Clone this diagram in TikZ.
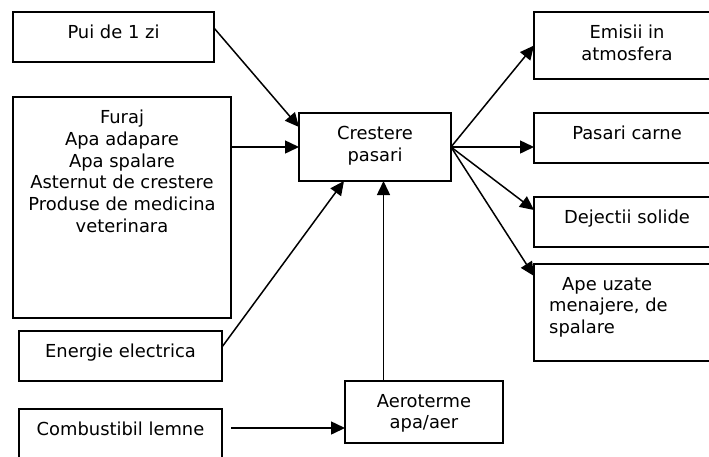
\documentclass[tikz,border=0pt]{standalone}
\usepackage{fontspec}
\setmainfont{DejaVu Sans}
\usetikzlibrary{arrows.meta, positioning, calc}

\begin{document}
\begin{tikzpicture}[
    x=1pt, y=-1pt,
    block/.style={
        rectangle, draw=black, line width=1.6pt, anchor=north west,
        inner sep=0pt, outer sep=0pt
    },
    lbl/.style={
        font=\fontsize{17.9}{21.7}\selectfont, align=center,
        inner sep=0pt, text=black
    },
    arr/.style={-{Triangle[length=14pt, width=13pt]}, line width=1.5pt, black},
    node distance=13pt
]

\useasboundingbox (0,0) rectangle (709,456);
\clip (0,0) rectangle (709,456);

% ===================================================================
% INPUTS
% ===================================================================
\node[block, minimum width=201pt, minimum height=50pt] (pui) at (13,12) {};
\node[lbl, below=of pui.north] (puitxt) {Pui de 1 zi};

\node[block, minimum width=218pt, minimum height=221pt] (furaj) at (13,97) {};
\node[lbl, below=of furaj.north] (furajtxt)
    {Furaj\\Apa adapare\\Apa spalare\\Asternut de crestere\\
     Produse de medicina\\veterinara};

\node[block, minimum width=203pt, minimum height=50pt] (ener) at (19,331) {};
\node[lbl, below=of ener.north] (enertxt) {Energie electrica};

\node[block, minimum width=203pt, minimum height=62pt] (comb) at (19,409) {};
\node[lbl, below=of comb.north] (combtxt) {Combustibil lemne};

% ===================================================================
% PROCESS
% ===================================================================
\node[block, minimum width=152pt, minimum height=68pt] (crest) at (299,113) {};
\node[lbl, below=of crest.north] (cresttxt) {Crestere\\pasari};

\node[block, minimum width=158pt, minimum height=62pt] (aero) at (345,381) {};
\node[lbl, below=of aero.north] (aerotxt) {Aeroterme\\apa/aer};

% ===================================================================
% OUTPUTS
% ===================================================================
\node[block, minimum width=186pt, minimum height=67pt] (emis) at (534,12) {};
\node[lbl, below=of emis.north] (emistxt) {Emisii in\\atmosfera};

\node[block, minimum width=186pt, minimum height=50pt] (pas) at (534,113) {};
\node[lbl, below=of pas.north] (pastxt) {Pasari carne};

\node[block, minimum width=186pt, minimum height=50pt] (dej) at (534,197) {};
\node[lbl, below=of dej.north] (dejtxt) {Dejectii solide};

\node[block, minimum width=186pt, minimum height=97pt] (ape) at (534,264) {};
\node[lbl, align=left, anchor=north west] (apetxt)
    at ([xshift=15pt, yshift=-13pt]ape.north west)
    {\hspace*{13pt}Ape uzate\\menajere, de\\spalare};

% ===================================================================
% ARROWS
% ===================================================================
\coordinate (combin) at ([yshift=-16pt]aero.west);

\draw[arr] ([yshift=9pt]pui.east) -- ([yshift=20pt]crest.west);
\draw[arr] (furaj.east |- crest) -- (crest.west);
\draw[arr] ([yshift=9pt]ener.east) -- ([xshift=-31pt]crest.south);
\draw[arr] ([xshift=8.5pt]crest.south |- aero.north) -- ([xshift=8.5pt]crest.south);
\draw[arr] ([xshift=9pt]comb.east |- combin) -- (combin);

\draw[arr] (crest.east) -- (emis.west);
\draw[arr] (crest.east) -- (crest.east -| pas.west);
\draw[arr] (crest.east) -- ([yshift=12pt]dej.west);
\draw[arr] (crest.east) -- ([yshift=-12pt]ape.north west);

\end{tikzpicture}
\end{document}
